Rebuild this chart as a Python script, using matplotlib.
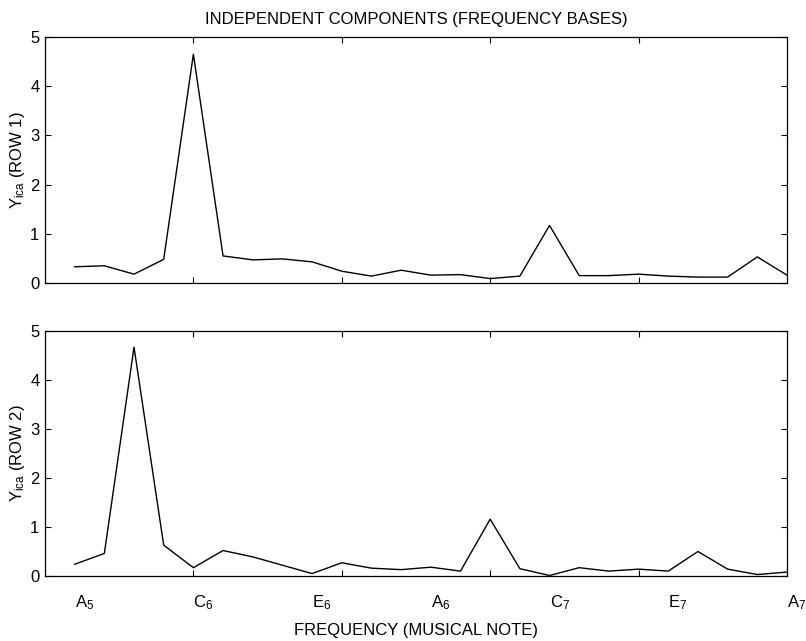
import matplotlib
matplotlib.use('Agg')
import matplotlib.pyplot as plt

plt.rcParams['font.family'] = ['Liberation Sans', 'DejaVu Sans']
plt.rcParams['mathtext.fontset'] = 'custom'
plt.rcParams['mathtext.rm'] = 'Liberation Sans'
plt.rcParams['mathtext.it'] = 'Liberation Sans:italic'
plt.rcParams['font.size'] = 12

# frequency bins 1..25 (semitone spacing from A5 to A7)
bins = list(range(1, 26))

row1 = [0.33, 0.35, 0.18, 0.48, 4.65, 0.55, 0.47, 0.49, 0.43, 0.24, 0.14, 0.26,
        0.16, 0.17, 0.09, 0.14, 1.17, 0.15, 0.15, 0.18, 0.14, 0.12, 0.12, 0.53, 0.16]
row2 = [0.24, 0.46, 4.67, 0.63, 0.17, 0.52, 0.39, 0.22, 0.05, 0.27, 0.16, 0.13,
        0.18, 0.10, 1.16, 0.15, 0.01, 0.17, 0.10, 0.14, 0.10, 0.50, 0.14, 0.03, 0.08]

note_pos = [1, 5, 9, 13, 17, 21, 25]
note_labels = ['A$_{\\mathit{5}}$', 'C$_{\\mathit{6}}$', 'E$_{\\mathit{6}}$', 'A$_{\\mathit{6}}$',
               'C$_{\\mathit{7}}$', 'E$_{\\mathit{7}}$', 'A$_{\\mathit{7}}$']

fig = plt.figure(figsize=(8.06, 6.41), dpi=100)
ax1 = fig.add_axes([0.0558, 0.5585, 0.9206, 0.3838])
ax2 = fig.add_axes([0.0558, 0.1014, 0.9206, 0.3822])

for ax, data, lab in [(ax1, row1, 'ROW 1'), (ax2, row2, 'ROW 2')]:
    ax.plot(bins, data, color='black', lw=1.0)
    ax.set_xlim(0, 25)
    ax.set_ylim(0, 5)
    ax.set_xticks([5, 10, 15, 20])
    ax.set_xticklabels([])
    ax.set_yticks([0, 1, 2, 3, 4, 5])
    ax.tick_params(direction='in', top=True, right=True, length=4, width=0.8,
                   labelsize=12, pad=4)
    for s in ax.spines.values():
        s.set_linewidth(0.9)
    ax.set_ylabel('Y$_{\\mathrm{ica}}$ (' + lab + ')', fontsize=12, labelpad=2)

ax1.set_title('INDEPENDENT COMPONENTS (FREQUENCY BASES)', fontsize=12, pad=9)

for p, t in zip(note_pos, note_labels):
    ax2.text(p, -0.55, t, ha='left', va='center', fontsize=12)

ax2.text(12.5, -1.12, 'FREQUENCY (MUSICAL NOTE)', ha='center', va='center', fontsize=12)

fig.savefig('out.png', dpi=100)
